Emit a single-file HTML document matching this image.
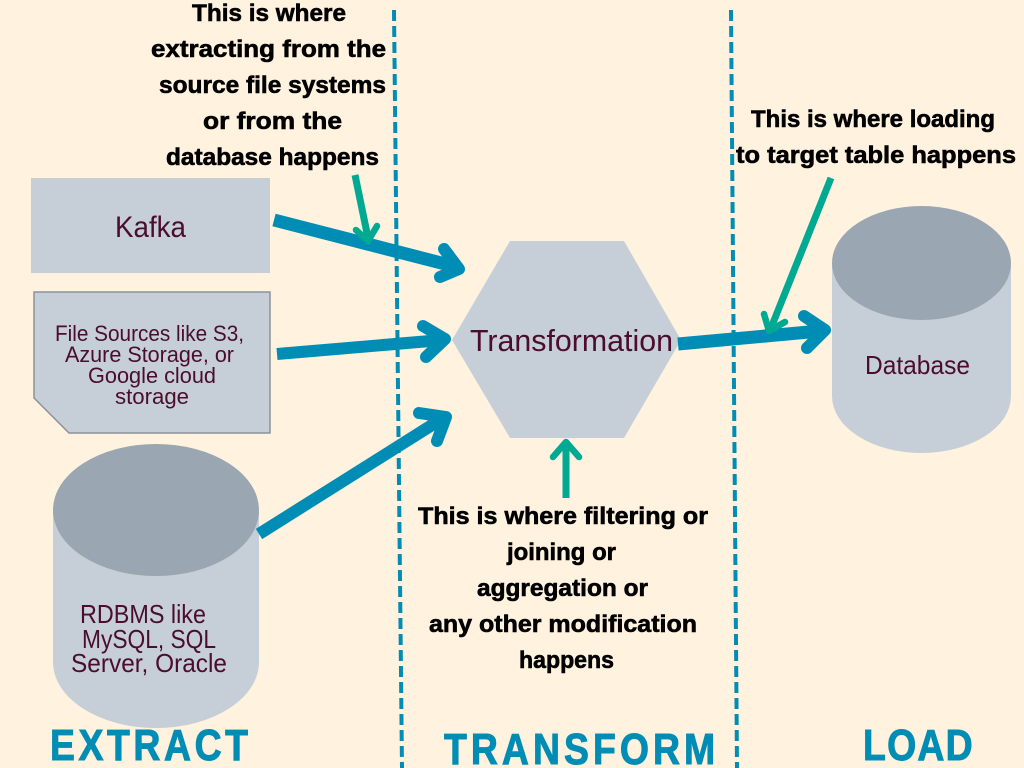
<!DOCTYPE html>
<html lang="en">
<head>
<meta charset="utf-8">
<title>ETL diagram</title>
<style>
html,body{margin:0;padding:0;background:#FFF2DF;width:1024px;height:768px;overflow:hidden}
svg{display:block}
.h{font-family:"Liberation Sans",sans-serif;font-weight:700;font-size:24px;fill:#000;stroke:#000;stroke-width:.6}
.b{font-family:"Liberation Sans",sans-serif;fill:#4A0D2C}
.t{font-family:"Liberation Sans",sans-serif;font-weight:700;fill:#008DB5;stroke:#008DB5;stroke-width:1}
</style>
</head>
<body>
<svg width="1024" height="768" viewBox="0 0 1024 768" xmlns="http://www.w3.org/2000/svg">
<rect width="1024" height="768" fill="#FFF2DF"/>

<!-- dashed dividers -->
<line x1="394" y1="10" x2="402" y2="768" stroke="#008DB5" stroke-width="4" stroke-dasharray="11 5"/>
<line x1="731" y1="10" x2="737" y2="768" stroke="#008DB5" stroke-width="4" stroke-dasharray="11 5"/>

<!-- Kafka -->
<rect x="31" y="178" width="239" height="95" fill="#C6CED8"/>
<text class="b" x="115" y="237" font-size="30" textLength="71" lengthAdjust="spacingAndGlyphs">Kafka</text>

<!-- File sources -->
<polygon points="34,292 270,292 270,433 69,433 34,398" fill="#C6CED8" stroke="#8A929C" stroke-width="1.5"/>
<text class="b" font-size="22" x="55" y="341" textLength="189" lengthAdjust="spacingAndGlyphs">File Sources like S3,</text>
<text class="b" font-size="22" x="65" y="362" textLength="169" lengthAdjust="spacingAndGlyphs">Azure Storage, or</text>
<text class="b" font-size="22" x="88" y="383" textLength="128" lengthAdjust="spacingAndGlyphs">Google cloud</text>
<text class="b" font-size="22" x="115" y="404" textLength="74" lengthAdjust="spacingAndGlyphs">storage</text>

<!-- RDBMS cylinder -->
<path d="M53 510 V662 A103 66 0 0 0 259 662 V510 Z" fill="#C6CED8"/>
<ellipse cx="156" cy="510" rx="103" ry="66" fill="#9AA6B1"/>
<text class="b" font-size="26" x="80" y="623" textLength="126" lengthAdjust="spacingAndGlyphs">RDBMS like</text>
<text class="b" font-size="26" x="82" y="648" textLength="134" lengthAdjust="spacingAndGlyphs">MySQL, SQL</text>
<text class="b" font-size="26" x="71" y="672" textLength="156" lengthAdjust="spacingAndGlyphs">Server, Oracle</text>

<!-- Hexagon -->
<polygon points="452,340 510,241 624,241 681,340 624,438 510,438" fill="#C6CED8"/>
<text class="b" font-size="31" x="470" y="351" textLength="203" lengthAdjust="spacingAndGlyphs">Transformation</text>

<!-- Database cylinder -->
<path d="M832 263 V396 A89.500 57 0 0 0 1011 396 V263 Z" fill="#C6CED8"/>
<ellipse cx="921.500" cy="263" rx="89.500" ry="57" fill="#9AA6B1"/>
<text class="b" font-size="26" x="865" y="374" textLength="105" lengthAdjust="spacingAndGlyphs">Database</text>

<!-- Blue arrows -->
<g fill="none" stroke="#008DB5">
<line x1="274" y1="220" x2="453" y2="266" stroke-width="13"/>
<polyline points="444,249 459,269 440,277" stroke-width="12" stroke-linecap="round" stroke-linejoin="round"/>
<line x1="277" y1="354" x2="442" y2="340" stroke-width="12"/>
<polyline points="423,326 445,339 426,357" stroke-width="12" stroke-linecap="round" stroke-linejoin="round"/>
<line x1="259" y1="534" x2="440" y2="420" stroke-width="12"/>
<polyline points="419,413 446,417 437,441" stroke-width="12" stroke-linecap="round" stroke-linejoin="round"/>
<line x1="678" y1="344" x2="820" y2="331" stroke-width="13"/>
<polyline points="804,316 825,330 807,348" stroke-width="12" stroke-linecap="round" stroke-linejoin="round"/>
</g>

<!-- Green arrows -->
<g fill="none" stroke="#00A991">
<line x1="355" y1="175" x2="368" y2="238" stroke-width="7"/>
<polyline points="356,230 368,241 377,226" stroke-width="6.500" stroke-linecap="round" stroke-linejoin="round"/>
<line x1="831" y1="178" x2="771" y2="328" stroke-width="7"/>
<polyline points="764,314 769,331 785,322" stroke-width="6.500" stroke-linecap="round" stroke-linejoin="round"/>
<line x1="566" y1="498" x2="566" y2="446" stroke-width="7"/>
<polyline points="553,457 566,442 579,457" stroke-width="6.500" stroke-linecap="round" stroke-linejoin="round"/>
</g>

<!-- Handwritten notes -->
<text class="h" x="192" y="21" textLength="154" lengthAdjust="spacingAndGlyphs">This is where</text>
<text class="h" x="151" y="57" textLength="235" lengthAdjust="spacingAndGlyphs">extracting from the</text>
<text class="h" x="159" y="93" textLength="227" lengthAdjust="spacingAndGlyphs">source file systems</text>
<text class="h" x="203" y="129" textLength="139" lengthAdjust="spacingAndGlyphs">or from the</text>
<text class="h" x="166" y="165" textLength="213" lengthAdjust="spacingAndGlyphs">database happens</text>

<text class="h" x="751" y="127" textLength="244" lengthAdjust="spacingAndGlyphs">This is where loading</text>
<text class="h" x="736" y="163" textLength="280" lengthAdjust="spacingAndGlyphs">to target table happens</text>

<text class="h" x="418" y="524" textLength="290" lengthAdjust="spacingAndGlyphs">This is where filtering or</text>
<text class="h" x="507" y="560" textLength="109" lengthAdjust="spacingAndGlyphs">joining or</text>
<text class="h" x="477" y="596" textLength="171" lengthAdjust="spacingAndGlyphs">aggregation or</text>
<text class="h" x="429" y="632" textLength="268" lengthAdjust="spacingAndGlyphs">any other modification</text>
<text class="h" x="519" y="668" textLength="95" lengthAdjust="spacingAndGlyphs">happens</text>

<!-- Section titles -->
<text class="t" transform="translate(50,760) scale(.85,1)" font-size="44" textLength="233" lengthAdjust="spacing">EXTRACT</text>
<text class="t" transform="translate(444,764) scale(.85,1)" font-size="44" textLength="319" lengthAdjust="spacing">TRANSFORM</text>
<text class="t" transform="translate(863,760) scale(.85,1)" font-size="44" textLength="129" lengthAdjust="spacing">LOAD</text>
</svg>
</body>
</html>
